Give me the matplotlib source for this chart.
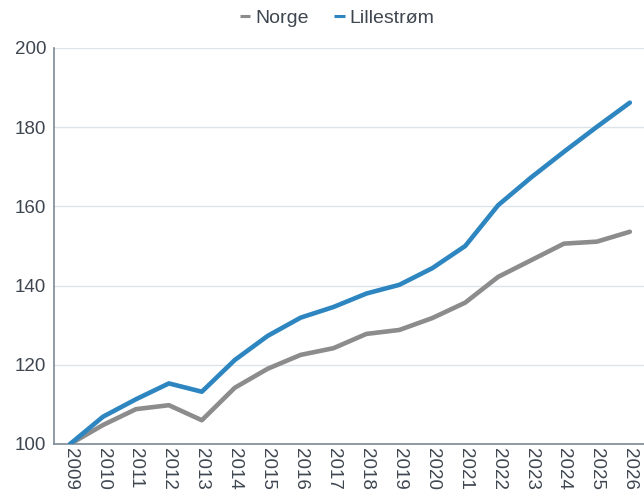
import numpy as np
import matplotlib
matplotlib.use("Agg")
import matplotlib.pyplot as plt

plt.rcParams['font.family'] = ['Liberation Sans', 'DejaVu Sans']

years = [str(y) for y in range(2009, 2027)]
norge = [100, 104.8, 108.8, 109.8, 106.0, 114.2, 119.0, 122.5, 124.2, 127.8,
         128.8, 131.8, 135.7, 142.2, 146.4, 150.6, 151.1, 153.6]
lillestrom = [100, 106.9, 111.3, 115.3, 113.2, 121.2, 127.3, 131.9, 134.6, 138.0,
              140.2, 144.4, 150.0, 160.3, 167.3, 173.8, 180.1, 186.2]

grid_c = '#dde3ea'
axis_c = '#7d8a97'
text_c = '#3e4650'

fig = plt.figure(figsize=(6.44, 4.94), dpi=100)
ax = fig.add_axes([54/644, 1 - 444/494, 590/644, (444 - 48)/494])

x = np.arange(len(years))
ax.plot(x, norge, color='#8c8c8c', lw=3.3, label='Norge', solid_capstyle='round', zorder=3)
ax.plot(x, lillestrom, color='#2e86c1', lw=3.3, label='Lillestrøm', solid_capstyle='round', zorder=4)

ax.set_xlim(-0.49, 17.43)
ax.set_ylim(100, 200)
ax.set_yticks([100, 120, 140, 160, 180, 200])
ax.set_xticks(x)
ax.set_xticklabels(years, rotation=-90, fontsize=13.5, color=text_c)
ax.tick_params(axis='y', labelsize=13.5, labelcolor=text_c, length=0, pad=5.5)
ax.tick_params(axis='x', length=0, pad=3)

ax.grid(axis='y', color=grid_c, lw=1)
ax.set_axisbelow(True)
for s in ['top', 'right']:
    ax.spines[s].set_visible(False)
for s in ['left', 'bottom']:
    ax.spines[s].set_color(axis_c)
    ax.spines[s].set_linewidth(1.2)

leg = fig.legend(loc='center', bbox_to_anchor=(337/644, 1 - 18/494), ncol=2, frameon=False,
                 fontsize=14, handlelength=0.55, handletextpad=0.25, columnspacing=1.3)
for t in leg.get_texts():
    t.set_color(text_c)
for h in leg.get_lines():
    h.set_linewidth(2.2)
    h.set_solid_capstyle('butt')

fig.savefig('out.png', dpi=100)
